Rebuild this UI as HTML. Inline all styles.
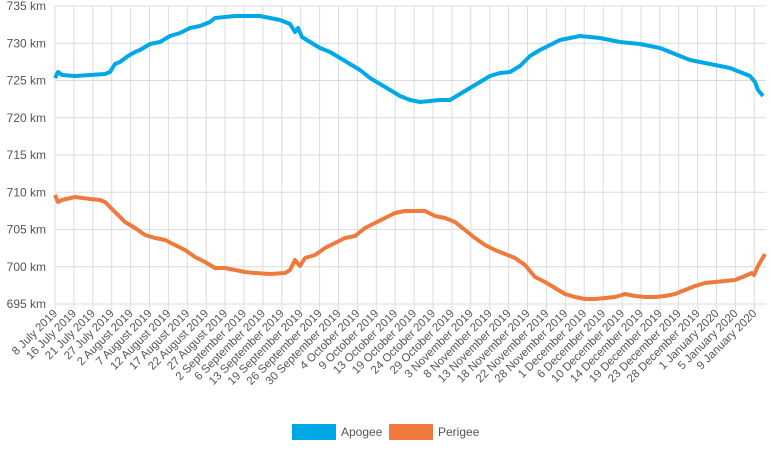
<!DOCTYPE html>
<html><head><meta charset="utf-8"><style>
body{margin:0;background:#fff;}
svg text{font-family:"Liberation Sans",sans-serif;fill:#555;}
</style></head><body>
<svg width="772" height="448" xmlns="http://www.w3.org/2000/svg">
<g id="grid" stroke="#dcdcdc" stroke-width="1"></g>
<g id="yl" font-size="12" text-anchor="end"></g>
<g id="xl" font-size="11.5" text-anchor="end"></g>
<polyline fill="none" stroke="#00a8e8" stroke-width="4" stroke-linejoin="round" points="55,78 58,72 62,75 75,76 90,75 105,74 110,72 115,64 120,62 128,56 135,52 140,50 150,44 160,42 170,36 180,33 190,28 200,26 210,22 215,18 225,17 235,16 245,16 260,16 270,18 280,20 290,24 295,32 298,28 302,37 310,42 320,48 330,52 340,58 350,64 360,70 370,78 380,84 390,90 400,96 410,100 420,102 430,101 440,100 450,100 460,94 470,88 480,82 490,76 500,73 510,72 520,66 530,56 540,50 550,45 560,40 570,38 580,36 590,37 600,38 610,40 620,42 630,43 640,44 650,46 660,48 670,52 680,56 690,60 700,62 710,64 720,66 730,68 740,72 750,76 755,82 758,90 763,96"/>
<polyline fill="none" stroke="#f07a3c" stroke-width="4" stroke-linejoin="round" points="55,195 58,202 62,200 75,197 90,199 100,200 105,202 115,212 125,222 135,228 145,235 155,238 165,240 175,245 185,250 195,257 205,262 215,268 225,268 235,270 245,272 255,273 270,274 285,273 290,270 295,260 300,266 305,258 315,255 325,248 335,243 345,238 355,236 365,228 375,223 385,218 395,213 405,211 415,211 425,211 435,216 445,218 455,222 465,230 475,238 485,245 495,250 505,254 515,258 525,265 535,277 545,282 555,288 565,294 575,297 585,299 595,299 605,298 615,297 622,295 625,294 635,296 645,297 655,297 665,296 675,294 685,290 695,286 705,283 715,282 725,281 735,280 745,276 752,273 754,275 758,266 765,254"/>
<rect x="292" y="424" width="44" height="16" fill="#00a8e8"/>
<text x="341" y="436" font-size="12">Apogee</text>
<rect x="389" y="424" width="44" height="16" fill="#f07a3c"/>
<text x="438" y="436" font-size="12">Perigee</text>
</svg>
<script>
var ns="http://www.w3.org/2000/svg";
var g=document.getElementById('grid'),yl=document.getElementById('yl'),xl=document.getElementById('xl');
function el(t,a,p,txt){var e=document.createElementNS(ns,t);for(var k in a)e.setAttribute(k,a[k]);if(txt)e.textContent=txt;p.appendChild(e);}
for(var i=0;i<9;i++){var v=735-5*i,y=6+i*37.25;el('line',{x1:55,x2:766,y1:y,y2:y},g);el('text',{x:46,y:y+4},yl,v+' km');}
var L=["8 July 2019","16 July 2019","21 July 2019","27 July 2019","2 August 2019","7 August 2019","12 August 2019","17 August 2019","22 August 2019","27 August 2019","2 September 2019","6 September 2019","13 September 2019","19 September 2019","26 September 2019","30 September 2019","4 October 2019","9 October 2019","13 October 2019","19 October 2019","24 October 2019","29 October 2019","3 November 2019","8 November 2019","13 November 2019","18 November 2019","22 November 2019","28 November 2019","1 December 2019","6 December 2019","10 December 2019","14 December 2019","19 December 2019","23 December 2019","28 December 2019","1 January 2020","5 January 2020","9 January 2020"];
for(var j=0;j<L.length;j++){var x=55+j*18.9;el('line',{x1:x,x2:x,y1:6,y2:310},g);el('text',{x:x+3,y:314,transform:'rotate(-45 '+(x+3)+' 314)'},xl,L[j]);}
</script>
</body></html>
